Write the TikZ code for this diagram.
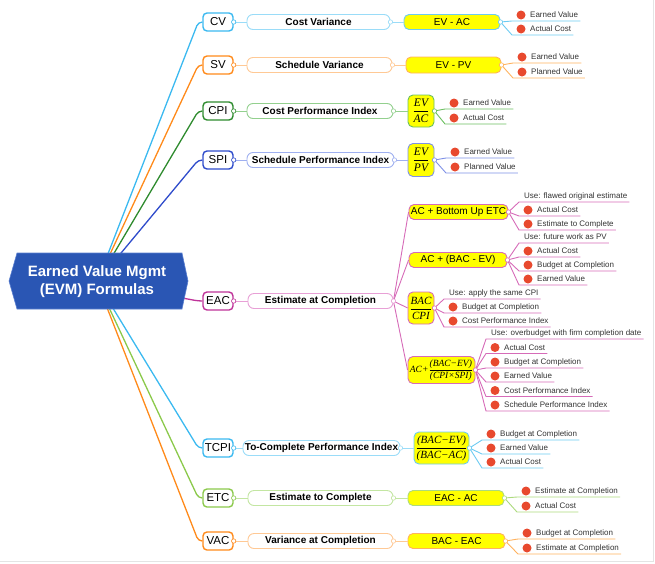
\documentclass[tikz,border=0pt]{standalone}
\usepackage{fontspec}
\setmainfont{Liberation Sans}
\newfontfamily\tms{Liberation Serif}
\usetikzlibrary{backgrounds}

% palette
\definecolor{rootblue}{HTML}{2A56B4}
\definecolor{rootedge}{HTML}{5A7FD0}
\definecolor{framegray}{HTML}{E4E4E4}
\definecolor{cyanD}{HTML}{3BB9F0}
\definecolor{cyanM}{HTML}{6CCBF2}
\definecolor{cyanL}{HTML}{9ADCF8}
\definecolor{orangeD}{HTML}{FF8A1A}
\definecolor{orangeM}{HTML}{FFB25E}
\definecolor{orangeL}{HTML}{FFC995}
\definecolor{greenD}{HTML}{2E8B2E}
\definecolor{greenM}{HTML}{6BBF5F}
\definecolor{greenL}{HTML}{93D08E}
\definecolor{blueD}{HTML}{2E4BCB}
\definecolor{blueM}{HTML}{7E90E6}
\definecolor{blueL}{HTML}{9FB0F0}
\definecolor{pinkD}{HTML}{BF3399}
\definecolor{pinkM}{HTML}{D66BB8}
\definecolor{pinkL}{HTML}{E8A0D6}
\definecolor{limeD}{HTML}{8BC94B}
\definecolor{limeM}{HTML}{ACDA7D}
\definecolor{limeL}{HTML}{C3E6A2}
\definecolor{dotred}{HTML}{E8492E}
\definecolor{leaftext}{HTML}{333333}
\definecolor{formulaY}{HTML}{FFFF00}

\tikzset{
  rootlabel/.style={text=white, align=center, inner sep=0pt,
    font=\bfseries\fontsize{15}{18}\selectfont},
  l1box/.style={draw=#1, fill=white, line width=1.4pt, rounded corners=4pt,
    minimum width=30pt, minimum height=18pt, inner sep=0pt,
    font=\fontsize{11.5}{13}\selectfont},
  titlebox/.style={draw=#1, fill=white, line width=0.9pt, rounded corners=6pt,
    minimum height=15pt, inner sep=0pt, font=\bfseries\fontsize{10}{11}\selectfont},
  formbox/.style={draw=#1, fill=formulaY, line width=0.9pt, rounded corners=5pt,
    inner sep=0pt, font=\fontsize{10}{11}\selectfont},
  leafbox/.style={anchor=south west, inner xsep=0pt, inner ysep=1pt,
    text height=6pt, text depth=2pt, text=leaftext, font=\fontsize{8}{9}\selectfont},
  trunkline/.style={draw=#1, line width=1.3pt, rounded corners=4pt},
  twigline/.style={draw=#1, line width=0.9pt},
  jointdot/.style={draw=#1, fill=white, line width=0.6pt},
}

% italic serif variable for formulas
\newcommand\ivar[1]{\hbox{\tms\itshape #1}}

% bulleted leaf: name, source node, x, underline y, colour, text
\newcommand\leafitem[6]{%
  \node[leafbox] (#1) at (#3,#4) {\hspace*{18pt}#6\hspace*{2pt}};
  \fill[dotred] ([xshift=9pt,yshift=6pt]#1.south west) circle (4.5pt);
  \draw[twigline=#5] (#2.east) -- (#1.south west) -- (#1.south east);
}
% usage note leaf (no bullet)
\newcommand\noteitem[6]{%
  \node[leafbox] (#1) at (#3,#4) {\hspace*{5pt}#6\hspace*{2pt}};
  \draw[twigline=#5] (#2.east) -- (#1.south west) -- (#1.south east);
}

\begin{document}
\begin{tikzpicture}[x=1pt,y=-1pt]
\useasboundingbox (0,0) rectangle (655,563);
\draw[framegray, line width=0.8pt] (653.5,0) -- (653.5,561.5) -- (0,561.5);

% central topic
\fill[rootblue, draw=rootedge, line width=0.6pt]
  (9,281) -- (17,253) -- (182,253) -- (188,281) -- (182,309) -- (17,309) -- cycle;
\node[rootlabel] (root) at (97,282) {Earned Value Mgmt\\(EVM) Formulas};

% first-level abbreviations
\node[l1box=cyanD]   (cv)   at (218,22)  {CV};
\node[l1box=orangeD] (sv)   at (218,65)  {SV};
\node[l1box=greenD]  (cpi)  at (218,111) {CPI};
\node[l1box=blueD]   (spi)  at (218,160) {SPI};
\node[l1box=pinkD]   (eac)  at (218,301) {EAC};
\node[l1box=cyanD]   (tcpi) at (218,448) {TCPI};
\node[l1box=limeD]   (etc)  at (218,498) {ETC};
\node[l1box=orangeD] (vac)  at (218,541) {VAC};

% full names
\node[titlebox=cyanL,   minimum width=143pt] (cvT)   at (318.5,22)  {Cost Variance};
\node[titlebox=orangeL, minimum width=145pt] (svT)   at (319.5,65)  {Schedule Variance};
\node[titlebox=greenL,  minimum width=146pt] (cpiT)  at (320,111)   {Cost Performance Index};
\node[titlebox=blueL,   minimum width=147pt] (spiT)  at (320.5,160) {Schedule Performance Index};
\node[titlebox=pinkL,   minimum width=145pt] (eacT)  at (320.5,301) {Estimate at Completion};
\node[titlebox=cyanL,   minimum width=157pt] (tcpiT) at (321.5,448) {To-Complete Performance Index};
\node[titlebox=limeL,   minimum width=145pt] (etcT)  at (320.5,498) {Estimate to Complete};
\node[titlebox=orangeL, minimum width=145pt] (vacT)  at (320.5,541) {Variance at Completion};

% formulas
\node[formbox=cyanM,   minimum width=96pt, minimum height=15pt] (cvF) at (452,22) {EV - AC};
\node[formbox=orangeM, minimum width=95pt, minimum height=16pt] (svF) at (453.5,65) {EV - PV};
\node[formbox=greenM,  minimum width=26pt, minimum height=32pt, font=\fontsize{11.5}{13}\selectfont]
  (cpiF) at (421,111) {$\displaystyle\frac{\ivar{EV}}{\ivar{AC}}$};
\node[formbox=blueM,   minimum width=26pt, minimum height=33pt, font=\fontsize{11.5}{13}\selectfont]
  (spiF) at (421,160) {$\displaystyle\frac{\ivar{EV}}{\ivar{PV}}$};
\node[formbox=pinkM, minimum width=99pt, minimum height=15pt] (eacA) at (458.5,212) {AC + Bottom Up ETC};
\node[formbox=pinkM, minimum width=98pt, minimum height=15pt] (eacB) at (458,260) {AC + (BAC - EV)};
\node[formbox=pinkM, minimum width=26pt, minimum height=32pt, font=\fontsize{11}{13}\selectfont]
  (eacC) at (421,308) {$\displaystyle\frac{\ivar{BAC}}{\ivar{CPI}}$};
\node[formbox=pinkM, minimum width=67pt, minimum height=27pt, font=\fontsize{9.5}{11}\selectfont]
  (eacD) at (441.5,370) {$\displaystyle\ivar{AC+}\frac{\ivar{(BAC−EV)}}{\ivar{(CPI×SPI)}}$};
\node[formbox=cyanM, minimum width=55pt, minimum height=32pt, font=\fontsize{11}{13}\selectfont]
  (tcpiF) at (441.5,448) {$\displaystyle\frac{\ivar{(BAC−EV)}}{\ivar{(BAC−AC)}}$};
\node[formbox=limeM,   minimum width=96pt, minimum height=15pt] (etcF) at (456,498) {EAC - AC};
\node[formbox=orangeM, minimum width=97pt, minimum height=15pt] (vacF) at (456.5,541) {BAC - EAC};

% abbreviation -> name -> formula
\foreach \a/\c in {cv/cyanL, sv/orangeL, cpi/greenL, spi/blueL, tcpi/cyanL, etc/limeL, vac/orangeL}{
  \draw[twigline=\c] (\a.east) -- (\a T.west);
  \draw[twigline=\c] (\a T.east) -- (\a F.west);
}
\draw[twigline=pinkL] (eac.east) -- (eacT.west);
\foreach \f in {eacA, eacB, eacC, eacD}
  \draw[twigline=pinkM] (eacT.east) -- (\f.west);

% operands
\leafitem{cvA}{cvF}{512}{21}{cyanM}{Earned Value}
\leafitem{cvB}{cvF}{512}{35}{cyanM}{Actual Cost}

\leafitem{svA}{svF}{513}{63}{orangeM}{Earned Value}
\leafitem{svB}{svF}{513}{78}{orangeM}{Planned Value}

\leafitem{cpiA}{cpiF}{445}{109}{greenM}{Earned Value}
\leafitem{cpiB}{cpiF}{445}{124}{greenM}{Actual Cost}

\leafitem{spiA}{spiF}{446}{158}{blueM}{Earned Value}
\leafitem{spiB}{spiF}{446}{173}{blueM}{Planned Value}

\noteitem{eacAn}{eacA}{519}{202}{pinkM}{Use: flawed original estimate}
\leafitem{eacA1}{eacA}{519}{216}{pinkM}{Actual Cost}
\leafitem{eacA2}{eacA}{519}{230}{pinkM}{Estimate to Complete}

\noteitem{eacBn}{eacB}{519}{243}{pinkM}{Use: future work as PV}
\leafitem{eacB1}{eacB}{519}{257}{pinkM}{Actual Cost}
\leafitem{eacB2}{eacB}{519}{271}{pinkM}{Budget at Completion}
\leafitem{eacB3}{eacB}{519}{285}{pinkM}{Earned Value}

\noteitem{eacCn}{eacC}{444}{299}{pinkM}{Use: apply the same CPI}
\leafitem{eacC1}{eacC}{444}{313}{pinkM}{Budget at Completion}
\leafitem{eacC2}{eacC}{444}{327}{pinkM}{Cost Performance Index}

\noteitem{eacDn}{eacD}{486}{339}{pinkM}{Use: overbudget with firm completion date}
\leafitem{eacD1}{eacD}{486}{353.5}{pinkM}{Actual Cost}
\leafitem{eacD2}{eacD}{486}{368}{pinkM}{Budget at Completion}
\leafitem{eacD3}{eacD}{486}{382}{pinkM}{Earned Value}
\leafitem{eacD4}{eacD}{486}{396.5}{pinkM}{Cost Performance Index}
\leafitem{eacD5}{eacD}{486}{411}{pinkM}{Schedule Performance Index}

\leafitem{tcpiA}{tcpiF}{482}{440}{cyanM}{Budget at Completion}
\leafitem{tcpiB}{tcpiF}{482}{454}{cyanM}{Earned Value}
\leafitem{tcpiC}{tcpiF}{482}{468}{cyanM}{Actual Cost}

\leafitem{etcA}{etcF}{517}{497}{limeM}{Estimate at Completion}
\leafitem{etcB}{etcF}{517}{512}{limeM}{Actual Cost}

\leafitem{vacA}{vacF}{518}{539}{orangeM}{Budget at Completion}
\leafitem{vacB}{vacF}{518}{554}{orangeM}{Estimate at Completion}

% small joints on the right-hand side of boxes
\foreach \n/\c in {cv/cyanD, sv/orangeD, cpi/greenD, spi/blueD, eac/pinkD, tcpi/cyanD, etc/limeD, vac/orangeD,
                   cvT/cyanL, svT/orangeL, cpiT/greenL, spiT/blueL, eacT/pinkL, tcpiT/cyanL, etcT/limeL, vacT/orangeL,
                   cvF/cyanM, svF/orangeM, cpiF/greenM, spiF/blueM, eacA/pinkM, eacB/pinkM, eacC/pinkM, eacD/pinkM,
                   tcpiF/cyanM, etcF/limeM, vacF/orangeM}
  \draw[jointdot=\c] (\n.east) circle (2.2pt);

% branches from the central topic, bending into each box
\begin{pgfonlayer}{background}
\foreach \n/\c in {cv/cyanD, sv/orangeD, cpi/greenD, spi/blueD, eac/pinkD, tcpi/cyanD, etc/limeD, vac/orangeD}
  \draw[trunkline=\c] (root.center) -- ([xshift=-4pt]\n.west) -- (\n.west);
\end{pgfonlayer}
\end{tikzpicture}
\end{document}
